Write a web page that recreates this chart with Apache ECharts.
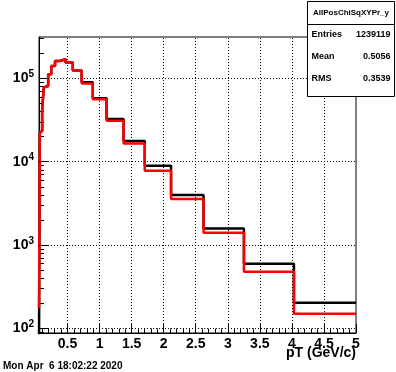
<!DOCTYPE html>
<html>
<head>
<meta charset="utf-8">
<script src="https://cdn.jsdelivr.net/npm/echarts@6/dist/echarts.min.js"></script>
<style>
  html, body { margin: 0; padding: 0; background: #fff; }
  #chart { width: 396px; height: 372px; }
</style>
</head>
<body>
<div id="chart"></div>
<script>
// pT histogram, log-spaced bins, two overlaid step curves (ROOT style).
const binEdges = [0.055, 0.068, 0.084, 0.104, 0.129, 0.160, 0.198, 0.246, 0.305, 0.378,
                  0.469, 0.582, 0.721, 0.894, 1.109, 1.375, 1.705, 2.115, 2.622, 3.252,
                  4.032, 5.0];
const countsBlack = [60, 22400, 23400, 41700, 78000, 81000, 112000, 141000, 162000, 170000,
                     155000, 124000, 89700, 57700, 32600, 17700, 8950, 3980, 1585, 596, 203];
const countsRed   = [174, 22400, 23400, 41700, 78000, 81000, 112000, 141000, 162000, 170000,
                     155000, 124000, 87000, 56100, 31000, 16600, 7800, 3560, 1406, 478, 150];
const xRange = [0.055, 5];
const yRange = [88, 3.14e5];
const xTicks = [0.5, 1, 1.5, 2, 2.5, 3, 3.5, 4, 4.5, 5];
const yDecades = [2, 3, 4, 5]; // exponents of 10
const statsTitle = 'AllPosChiSqXYPr_y';
const statsRows = [['Entries', '1239119'], ['Mean', '0.5056'], ['RMS', '0.3539']];
const dateText = 'Mon Apr  6 18:02:22 2020';
const xTitle = 'pT (GeV/c)';

const FONT = '"Liberation Sans", Arial, Helvetica, sans-serif';
const yMin = Math.log10(yRange[0]), yMax = Math.log10(yRange[1]);

// minor tick positions
const xMinor = [];
for (let i = 1; i <= 50; i++) { if (i % 5) xMinor.push(i / 10); }
const yMinor = [];
for (let e = 1; e <= 5; e++) for (let k = 2; k <= 9; k++) {
  const v = Math.log10(k * Math.pow(10, e));
  if (v >= yMin && v <= yMax) yMinor.push(v);
}

function steps(counts) {
  const d = counts.map((c, i) => [binEdges[i], Math.log10(c)]);
  d.push([binEdges[binEdges.length - 1], Math.log10(counts[counts.length - 1])]);
  return d;
}

function histo(name, counts, color, z) {
  return {
    name, type: 'line', step: 'end', data: steps(counts), symbol: 'none',
    lineStyle: { color, width: 2.5 }, z, clip: true, animation: false,
  };
}

const tickAxis = (min, max, pos, vals, len) => ({
  type: 'value', min, max, position: pos,
  axisLine: { show: false }, splitLine: { show: false },
  axisLabel: { show: false },
  axisTick: { show: true, inside: true, length: len, customValues: vals,
              lineStyle: { color: '#000', width: 1 } },
});

const chart = echarts.init(document.getElementById('chart'));
chart.setOption({
  backgroundColor: '#fff',
  animation: false,
  grid: { left: 39, top: 37, right: 40, bottom: 39, show: true,
          borderColor: '#000', borderWidth: 1, backgroundColor: 'transparent' },
  xAxis: [
    {
      type: 'value', min: xRange[0], max: xRange[1], position: 'bottom',
      axisLine: { show: true, lineStyle: { color: '#000', width: 1 } },
      axisTick: { show: true, inside: true, length: 9, customValues: xTicks,
                  lineStyle: { color: '#000' } },
      axisLabel: { customValues: xTicks, margin: 4, color: '#000', fontFamily: FONT,
                   fontSize: 14, fontWeight: 'bold', formatter: v => String(v) },
      splitLine: { show: false },
    },
    tickAxis(xRange[0], xRange[1], 'bottom', xMinor, 4.5),
  ],
  yAxis: [
    {
      type: 'value', min: yMin, max: yMax, position: 'left',
      axisLine: { show: true, lineStyle: { color: '#000', width: 1 } },
      axisTick: { show: true, inside: true, length: 9.5, customValues: yDecades,
                  lineStyle: { color: '#000' } },
      axisLabel: {
        customValues: yDecades, margin: 5, color: '#000',
        formatter: v => '{b|10}{s|' + Math.round(v) + '}',
        rich: {
          b: { fontFamily: FONT, fontSize: 14, fontWeight: 'bold', color: '#000', lineHeight: 18 },
          s: { fontFamily: FONT, fontSize: 10, fontWeight: 'bold', color: '#000',
               lineHeight: 10, verticalAlign: 'top' },
        },
      },
      splitLine: { show: false },
    },
    tickAxis(yMin, yMax, 'left', yMinor, 5),
  ],
  series: [
    {
      name: 'grid', type: 'line', data: [], z: 1, silent: true,
      markLine: {
        silent: true, symbol: ['none', 'none'], label: { show: false }, animation: false,
        lineStyle: { color: '#000', width: 1, type: [1, 2] },
        emphasis: { disabled: true },
        data: [
          ...xTicks.filter(v => v < xRange[1]).map(v => ({ xAxis: v })),
          ...yDecades.map(e => ({ yAxis: e })),
        ],
      },
    },
    histo('black', countsBlack, '#000000', 3),
    histo('red', countsRed, '#ff0000', 4),
  ],
  graphic: [
    { type: 'rect', shape: { x: 307.5, y: 1.5, width: 87, height: 95 }, z: 100,
      style: { fill: '#fff', stroke: '#000', lineWidth: 1 } },
    { type: 'line', shape: { x1: 307.5, y1: 24.5, x2: 394.5, y2: 24.5 }, z: 101,
      style: { stroke: '#000', lineWidth: 1 } },
    { type: 'text', z: 101, style: { x: 351, y: 13, text: statsTitle, align: 'center',
      verticalAlign: 'middle', font: 'bold 8px ' + FONT, fill: '#000' } },
    ...statsRows.flatMap((r, i) => [
      { type: 'text', z: 101, style: { x: 311.5, y: 35 + 22 * i, text: r[0], align: 'left',
        verticalAlign: 'middle', font: 'bold 9px ' + FONT, fill: '#000' } },
      { type: 'text', z: 101, style: { x: 390.5, y: 35 + 22 * i, text: r[1], align: 'right',
        verticalAlign: 'middle', font: 'bold 9px ' + FONT, fill: '#000' } },
    ]),
    { type: 'text', z: 101, style: { x: 356, y: 353, text: xTitle, align: 'right',
      verticalAlign: 'middle', font: 'bold 14px ' + FONT, fill: '#000' } },
    { type: 'text', z: 101, style: { x: 3, y: 366, text: dateText, align: 'left',
      verticalAlign: 'middle', font: 'bold 10px ' + FONT, fill: '#000' } },
  ],
});
</script>
</body>
</html>
